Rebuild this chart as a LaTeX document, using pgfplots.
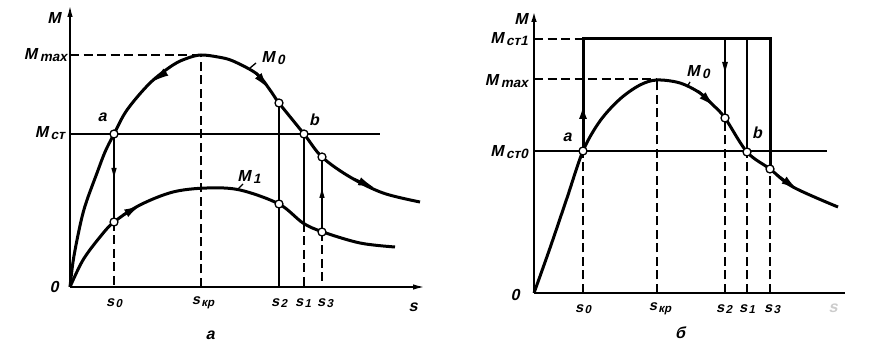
\documentclass[border=0pt]{standalone}
\usepackage{fontspec}
\setmainfont{Liberation Sans}
\newfontfamily\gost[FakeSlant=0.22]{Liberation Sans}
\usepackage{pgfplots}
\pgfplotsset{compat=1.18}
\usetikzlibrary{arrows.meta}
\newcommand{\sub}[1]{\kern2.5pt\raisebox{-1.5pt}{\fontsize{13.5}{14}\selectfont\gost\bfseries #1}}
\newcommand{\ssub}[1]{\kern1.5pt\raisebox{-1.5pt}{\fontsize{11.5}{12}\selectfont\gost\bfseries #1}}
\begin{document}
\begin{tikzpicture}[x=1pt,y=1pt]
\useasboundingbox (0,0) rectangle (876,350);
\tikzset{lbl/.style={font=\fontsize{16}{18}\selectfont\gost\bfseries, inner sep=0pt},
  slbl/.style={font=\fontsize{14.5}{16}\selectfont\gost\bfseries, inner sep=0pt},
  thinl/.style={line width=1.3pt, black},
  dsh/.style={line width=1.3pt, black, dash pattern=on 9pt off 4.5pt},
  crv/.style={line width=3pt, black, smooth, tension=0.55},
  arr/.style={line width=2.4pt, black, -{Latex[length=17pt,width=8.5pt]}},
  circ/.style={only marks, mark=*, mark size=4pt, mark options={fill=white, draw=black, line width=1.3pt}}}
% ---------------- panel a ----------------
\begin{axis}[at={(70pt,63pt)}, anchor=south west, scale only axis,
  width=355pt, height=282pt, xmin=0, xmax=355, ymin=0, ymax=282,
  axis lines=left, xtick=\empty, ytick=\empty, clip=false,
  axis line style={line width=1.8pt, -{Latex[length=12pt,width=5.5pt]}}]
\addplot[dsh] coordinates {(0,232)(131,232)};
\addplot[dsh] coordinates {(131,0)(131,232)};
\addplot[thinl] coordinates {(0,153)(310,153)};
\addplot[thinl] coordinates {(44,153)(44,65)};
\addplot[dsh] coordinates {(44,65)(44,0)};
\addplot[thinl] coordinates {(209,184)(209,0)};
\addplot[thinl] coordinates {(234,153)(234,64)};
\addplot[dsh] coordinates {(234,64)(234,0)};
\addplot[thinl] coordinates {(252,130)(252,55)};
\addplot[dsh] coordinates {(252,55)(252,0)};
\addplot[crv] coordinates {(0,0)(3,25)(7,47)(12,70)(17,87)(27,114)(35,135)(44,153)(57,177)(80,204)(103,222)(118,229)(131,232)(148,230)(163,226)(187,213)(200,197)(209,184)(234,153)(252,130)(280,110)(313,94)(350,85)};
\addplot[crv] coordinates {(0,0)(13,27)(30,50)(44,65)(70,82)(103,95)(137,99)(170,97)(209,83)(233,64)(253,55)(290,44)(325,40)};
\addplot[arr] coordinates {(96,215)(82,205)};
\addplot[arr] coordinates {(186,214)(199,198)};
\addplot[arr] coordinates {(284,108)(305,99)};
\addplot[arr] coordinates {(53,72)(71,82)};
\addplot[thinl, -{Latex[length=12pt,width=5.5pt]}] coordinates {(44,132)(44,107)};
\addplot[thinl, -{Latex[length=12pt,width=5.5pt]}] coordinates {(252,74)(252,101)};
\addplot[thinl] coordinates {(180,219)(186,224)};
\addplot[thinl] coordinates {(168,98)(173,103)};
\addplot[circ] coordinates {(44,153)(44,65)(209,184)(209,83)(234,153)(252,130)(252,55)};
\node[lbl] at (axis cs:-16,269) {M};
\node[lbl, anchor=east] at (axis cs:-3,232) {M\sub{max}};
\node[lbl, anchor=east] at (axis cs:-5,154) {M\sub{ст}};
\node[lbl] at (axis cs:-16,0) {0};
\node[slbl] at (axis cs:44,-16) {s\ssub{0}};
\node[slbl] at (axis cs:133,-16) {s\ssub{кр}};
\node[slbl] at (axis cs:209,-16) {s\ssub{2}};
\node[slbl] at (axis cs:233,-16) {s\ssub{1}};
\node[slbl] at (axis cs:255,-16) {s\ssub{3}};
\node[lbl] at (axis cs:343,-20) {s};
\node[lbl] at (axis cs:140,-48) {а};
\node[lbl] at (axis cs:32,170) {а};
\node[lbl] at (axis cs:244,167) {b};
\node[lbl] at (axis cs:203,229) {M\sub{0}};
\node[lbl] at (axis cs:179,110) {M\sub{1}};
\end{axis}
% ---------------- panel b ----------------
\begin{axis}[at={(534pt,57pt)}, anchor=south west, scale only axis,
  width=311pt, height=283pt, xmin=0, xmax=311, ymin=0, ymax=283,
  axis lines=left, xtick=\empty, ytick=\empty, clip=false,
  x axis line style={line width=1.3pt, -},
  y axis line style={line width=2.2pt, -{Latex[length=12pt,width=5.5pt]}}]
\addplot[dsh] coordinates {(0,254)(49,254)};
\addplot[dsh] coordinates {(0,214)(123,214)};
\addplot[thinl] coordinates {(0,142)(293,142)};
\addplot[dsh] coordinates {(49,0)(49,142)};
\addplot[dsh] coordinates {(123,0)(123,214)};
\addplot[dsh] coordinates {(191,0)(191,175)};
\addplot[dsh] coordinates {(213,0)(213,141)};
\addplot[dsh] coordinates {(236,0)(236,124)};
\addplot[line width=3pt] coordinates {(49,142)(49,254)(236,254)(236,124)};
\addplot[thinl] coordinates {(191,254)(191,175)};
\addplot[thinl] coordinates {(213,254)(213,141)};
\addplot[crv] coordinates {(0,0)(16,45)(33,95)(49,142)(66,172)(86,194)(106,208)(123,213)(146,210)(166,200)(179,188)(191,175)(213,141)(236,124)(259,106)(304,86)};
\addplot[arr] coordinates {(164,202)(181,186)};
\addplot[arr] coordinates {(243,118)(264,103)};
\addplot[line width=3pt, -{Latex[length=15pt,width=8pt]}] coordinates {(49,160)(49,189)};
\addplot[thinl, -{Latex[length=13pt,width=6pt]}] coordinates {(191,245)(191,218)};
\addplot[thinl] coordinates {(153,206)(156,211)};
\addplot[circ] coordinates {(49,142)(191,175)(213,141)(236,124)};
\node[lbl] at (axis cs:-13,274) {M};
\node[lbl, anchor=east] at (axis cs:-6,254) {M\sub{ст1}};
\node[lbl, anchor=east] at (axis cs:-6,212) {M\sub{max}};
\node[lbl, anchor=east] at (axis cs:-6,141) {M\sub{ст0}};
\node[lbl] at (axis cs:-19,-2) {0};
\node[slbl] at (axis cs:49,-16) {s\ssub{0}};
\node[slbl] at (axis cs:126,-16) {s\ssub{кр}};
\node[slbl] at (axis cs:190,-16) {s\ssub{2}};
\node[slbl] at (axis cs:213,-16) {s\ssub{1}};
\node[slbl] at (axis cs:238,-16) {s\ssub{3}};
\node[lbl, gray!40] at (axis cs:299,-15) {s};
\node[lbl] at (axis cs:146,-40) {б};
\node[lbl] at (axis cs:33,156) {а};
\node[lbl] at (axis cs:223,160) {b};
\node[lbl] at (axis cs:164,221) {M\sub{0}};
\end{axis}
\end{tikzpicture}
\end{document}
